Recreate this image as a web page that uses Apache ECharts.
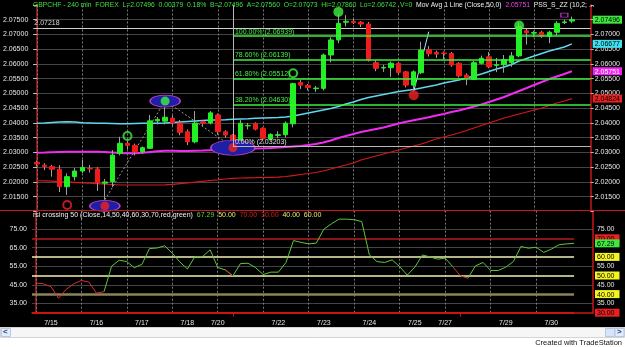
<!DOCTYPE html>
<html><head><meta charset="utf-8">
<script src="https://cdn.jsdelivr.net/npm/echarts@6/dist/echarts.min.js"></script>
<style>
html,body{margin:0;padding:0;background:#000;overflow:hidden}
#c{width:625px;height:347px}
</style></head><body><div id="c"></div>
<script>
// ---------------- data ----------------
const dayLabels = ['7/14','7/15','7/16','7/17','7/18','7/20','7/21','7/22','7/23','7/24','7/25','7/27','7/28','7/29','7/30'];
const barsPerDay = [2,6,6,6,4,2,6,6,6,6,4,2,6,6,4];
const weekStartDays = ['7/21','7/28'];
const barsPerGridStep = 6;

const openP = [2.0266,2.0257,2.0252,2.0243,2.0184,2.0218,2.0237,2.0246,2.0244,2.0196,
2.0201,2.0297,2.0331,2.0324,2.0302,2.0314,2.0407,2.0406,2.0416,2.0399,
2.0370,2.0336,2.0404,2.0400,2.0427,2.0370,2.0359,2.0334,2.0390,2.0397,
2.0382,2.0345,2.0358,2.0360,2.0397,2.0537,2.0527,2.0516,2.0517,2.0630,
2.0681,2.0741,2.0744,2.0741,2.0735,2.0604,2.0586,2.0587,2.0602,2.0573,
2.0528,2.0570,2.0648,2.0639,2.0637,2.0635,2.0602,2.0562,2.0548,2.0602,
2.0624,2.0595,2.0597,2.0604,2.0627,2.0712,2.0704,2.0707,2.0693,2.0707,
2.0740,2.0745];
const highP = [2.0272,2.0264,2.0258,2.0257,2.0229,2.0248,2.0275,2.0257,2.0250,2.0210,
2.0308,2.0353,2.0340,2.0330,2.0320,2.0427,2.0420,2.0455,2.0425,2.0410,
2.0378,2.0440,2.0410,2.0440,2.0432,2.0375,2.0362,2.0410,2.0400,2.0402,
2.0385,2.0365,2.0372,2.0405,2.0536,2.0545,2.0532,2.0525,2.0635,2.0690,
2.0769,2.0765,2.0752,2.0745,2.0742,2.0612,2.0597,2.0608,2.0605,2.0576,
2.0578,2.0675,2.0660,2.0645,2.0642,2.0640,2.0606,2.0568,2.0610,2.0628,
2.0640,2.0620,2.0630,2.0640,2.0740,2.0718,2.0712,2.0712,2.0712,2.0745,
2.0750,2.0760];
const lowP = [2.0253,2.0240,2.0218,2.0166,2.0156,2.0205,2.0230,2.0232,2.0170,2.0140,
2.0183,2.0290,2.0310,2.0290,2.0296,2.0312,2.0395,2.0395,2.0390,2.0358,
2.0325,2.0331,2.0390,2.0395,2.0360,2.0350,2.03203,2.0330,2.0378,2.0375,
2.0340,2.0340,2.0348,2.0350,2.0385,2.0515,2.0510,2.0505,2.0510,2.0605,
2.0670,2.0727,2.0735,2.0725,2.0608,2.0575,2.0573,2.0556,2.0565,2.0520,
2.0505,2.0565,2.0625,2.0620,2.0615,2.0590,2.0553,2.0528,2.0545,2.0598,
2.0585,2.0572,2.0570,2.0590,2.0622,2.0665,2.0690,2.0688,2.0670,2.0695,
2.0735,2.0738];
const closeP = [2.0261,2.0252,2.0243,2.0184,2.0218,2.0237,2.0249,2.0244,2.0198,2.0200,
2.0291,2.0331,2.0324,2.0302,2.0316,2.0407,2.0412,2.0419,2.0400,2.0368,
2.0336,2.0399,2.0399,2.0434,2.0370,2.0359,2.0324,2.0399,2.0391,2.0379,
2.0348,2.0361,2.0360,2.0399,2.0533,2.0528,2.0520,2.0518,2.0630,2.0681,
2.0737,2.0744,2.0740,2.0735,2.0613,2.0585,2.0588,2.0602,2.0571,2.0528,
2.0573,2.0647,2.0634,2.0633,2.0635,2.0596,2.0559,2.0551,2.0604,2.0619,
2.0590,2.0597,2.0614,2.0627,2.0726,2.0705,2.0706,2.0694,2.0707,2.0737,
2.0742,2.07496];

const maFast = [2.03986,2.03996,2.04013,2.04030,2.04040,2.04030,2.04006,2.03996,2.03986,2.03986,
2.03979,2.03973,2.03973,2.03979,2.03986,2.03986,2.03986,2.03996,2.04013,2.04030,
2.04047,2.04064,2.04081,2.04098,2.04098,2.04108,2.04122,2.04132,2.04142,2.04155,
2.04166,2.04176,2.04183,2.04199,2.04233,2.04284,2.04335,2.04386,2.04437,2.04487,
2.04555,2.04640,2.04707,2.04792,2.04860,2.04911,2.04962,2.05012,2.05063,2.05097,
2.05131,2.05181,2.05232,2.05283,2.05351,2.05401,2.05452,2.05520,2.05588,2.05656,
2.05740,2.05825,2.05893,2.05977,2.06096,2.06180,2.06265,2.06350,2.06434,2.06502,
2.06570,2.06677];
const ma50 = [2.02990,2.02997,2.03007,2.03014,2.03021,2.03024,2.03024,2.03024,2.03021,2.03014,
2.02997,2.02980,2.02970,2.02970,2.02987,2.03014,2.03038,2.03058,2.03058,2.03048,
2.03048,2.03058,2.03065,2.03075,2.03082,2.03092,2.03106,2.03116,2.03126,2.03133,
2.03140,2.03150,2.03167,2.03184,2.03201,2.03218,2.03251,2.03285,2.03336,2.03404,
2.03488,2.03556,2.03624,2.03692,2.03742,2.03793,2.03844,2.03912,2.03979,2.04037,
2.04088,2.04139,2.04189,2.04250,2.04301,2.04369,2.04420,2.04487,2.04555,2.04623,
2.04707,2.04792,2.04877,2.04979,2.05080,2.05181,2.05283,2.05385,2.05486,2.05571,
2.05656,2.05751];
const maSlow = [2.02042,2.02039,2.02032,2.02015,2.02005,2.01988,2.01971,2.01958,2.01947,2.01930,
2.01914,2.01897,2.01897,2.01897,2.01897,2.01897,2.01897,2.01903,2.01920,2.01947,
2.01971,2.01998,2.02022,2.02049,2.02073,2.02100,2.02124,2.02134,2.02141,2.02144,
2.02151,2.02157,2.02161,2.02185,2.02218,2.02252,2.02286,2.02320,2.02371,2.02439,
2.02506,2.02574,2.02642,2.02743,2.02811,2.02879,2.02947,2.03014,2.03082,2.03150,
2.03218,2.03285,2.03370,2.03454,2.03522,2.03590,2.03658,2.03742,2.03827,2.03912,
2.03996,2.04081,2.04166,2.04233,2.04301,2.04369,2.04437,2.04504,2.04589,2.04674,
2.04741,2.04824];

const rsi = [46,45.5,44,37.8,42.5,45.5,47.3,46.5,40.5,41.3,
55,58.2,57.5,54.2,56,64.5,64.8,66,62,57.3,
53.5,60.2,60.2,63.8,54.3,53,49.8,56.4,56.6,54.2,
50.5,51.8,51.8,57,68.8,67.8,67,67.4,74.9,77.8,
80.3,80.3,80,79,61.1,57.5,57,58.4,54.8,50.2,
54.5,61,60,58.8,59.3,54.8,49.8,48.6,55.2,57,
52.7,52.7,54.5,57.5,65.6,64.7,65.2,62.4,64.2,66.5,
67,67.29];
const rsiLevels = {ob:70, hi:60, mid:50, lo:40, os:30};

const fibStartBar = 26;
const fibLevels = [
  {name:'100.00% (2.06939)', v:2.06939},
  {name:'78.60% (2.06139)', v:2.06139},
  {name:'61.80% (2.05512)', v:2.05512},
  {name:'38.20% (2.04630)', v:2.04630}
];
const fibZero = {name:'0.00% (2.03203)', v:2.03203};
const refLine = 2.07218;

const zigzag = [[9,2.0140],[17,2.0475],[26,2.0318]];
const trendLeg = [[50,2.0506],[52,2.0709]];
const pivotLowsBig = [[9,2.0119],[26,2.0316]];
const pivotHighsBig = [[17,2.0474]];
const lowRings = [[4,2.0122]];
const highRings = [[12,2.03556],[34,2.05679]];
const highDots = [[40,2.0776],[64,2.0730]];
const lowDots = [[50,2.0494]];
const zzMarker = [[70,2.0765]];

const lastVals = {close:2.07496, fast:2.06677, ma50:2.05751, slow:2.04824};

// ---------------- derived ----------------
const dates = [];
const dayStart = {};
barsPerDay.forEach((n,k)=>{ dayStart[dayLabels[k]] = dates.length; for(let j=0;j<n;j++) dates.push(dayLabels[k]); });
const N = dates.length;
const labelBars = new Set();
let lastLab = -99;
dayLabels.forEach((d,k)=>{ if(k===0) return; const s=dayStart[d]; if(s-lastLab>=4){labelBars.add(s); lastLab=s;} });
const gridBars = [];
for (let b=0;b<N;b+=barsPerGridStep) gridBars.push(b);
const weekBars = new Set(weekStartDays.map(d=>dayStart[d]));
const XMAX = N + 1;
const XR = XMAX + 0.5;

const wickData = openP.map((o,i)=>[o, closeP[i], lowP[i], highP[i]]);
const bodyData = openP.map((o,i)=>[o, closeP[i], Math.min(o,closeP[i]), Math.max(o,closeP[i])]);

const rsiUp = new Array(N).fill(null), rsiDn = new Array(N).fill(null);
for (let i=1;i<N;i++){ const s = rsi[i] >= rsiLevels.mid ? rsiUp : rsiDn; s[i-1]=rsi[i-1]; s[i]=rsi[i]; }

const FONT = '"Liberation Sans",Arial,sans-serif';
const FS = 7;
const LBL = '#e6e6e6';
const RED = '#c81818';
const GRIDC = '#444';
const DASHC = '#7a7a7a';
const PMIN = 2.010, PMAX = 2.080;

const chart = echarts.init(document.getElementById('c'));

const priceTicksColor = [];
for (let v = PMIN; v <= PMAX + 1e-6; v += 0.005) priceTicksColor.push((v > 2.0149 && v < 2.0751) ? GRIDC : 'rgba(0,0,0,0)');
const rsiTickColor = [];
for (let v = 30; v <= 85; v += 5) rsiTickColor.push((v === 85 || v % 10 === 0) ? 'rgba(0,0,0,0)' : GRIDC);

const priceFmt = v => (v > 2.0149 && v < 2.0751) ? v.toFixed(5) : '';
const bx = (bg, fg, pr) => ({backgroundColor:bg, color:fg, padding:[1,pr,0,2], fontFamily:FONT, fontSize:FS});
const boxRich = {
  g:bx('#3ee83e','#000',2), c:bx('#3fe0f0','#000',2), m:bx('#f020f0','#fff',2), r:bx('#e82020','#000',2),
  y:bx('#f4f420','#000',5), rr:bx('#e82020','#000',5), gg:bx('#3ee83e','#000',5),
  p:{color:LBL, fontFamily:FONT, fontSize:FS}
};

const option = {
  backgroundColor:'#000',
  animation:false,
  grid:[
    {left:32, right:32, top:4.8, height:206.7},
    {left:32, right:32, top:210.4, height:102.3}
  ],
  xAxis:[
    {type:'category', gridIndex:0, data:dates, max:XMAX, boundaryGap:true,
     axisLine:{show:false}, axisTick:{show:false}, axisLabel:{show:false}, splitLine:{show:false}},
    {type:'value', gridIndex:0, min:-0.5, max:XR, show:false},
    {type:'category', gridIndex:1, data:dates, max:XMAX, boundaryGap:true,
     axisLine:{show:true, lineStyle:{color:RED, width:1.5}},
     axisTick:{show:true, alignWithLabel:true, length:4, interval:(i)=>weekBars.has(i), lineStyle:{color:RED}},
     axisLabel:{interval:(i)=>labelBars.has(i), color:LBL, fontFamily:FONT, fontSize:FS, margin:7},
     splitLine:{show:false}},
    {type:'value', gridIndex:1, min:-0.5, max:XR, show:false}
  ],
  yAxis:[
    {type:'value', gridIndex:0, position:'left', min:PMIN, max:PMAX, interval:0.005,
     axisLine:{show:true, lineStyle:{color:RED, width:1.5}},
     axisTick:{show:true, length:4, lineStyle:{color:'#bbb'}},
     axisLabel:{formatter:priceFmt, color:LBL, fontFamily:FONT, fontSize:FS, margin:5},
     splitLine:{show:true, lineStyle:{color:priceTicksColor, width:1}}},
    {type:'value', gridIndex:0, position:'right', min:PMIN, max:PMAX, interval:0.005,
     axisLine:{show:true, lineStyle:{color:RED, width:1.5}},
     axisTick:{show:true, length:3, lineStyle:{color:'#bbb'}},
     axisLabel:{formatter:priceFmt, color:LBL, fontFamily:FONT, fontSize:FS, margin:4},
     splitLine:{show:false}},
    {type:'value', gridIndex:0, position:'right', min:PMIN, max:PMAX,
     axisLine:{show:false}, axisTick:{show:false}, splitLine:{show:false},
     axisLabel:{margin:2, customValues:[lastVals.slow,lastVals.ma50,lastVals.fast,lastVals.close],
       formatter:v=>{const s=v.toFixed(5); if(Math.abs(v-lastVals.close)<1e-7) return '{g|'+s+'}'; if(Math.abs(v-lastVals.fast)<1e-7) return '{c|'+s+'}'; if(Math.abs(v-lastVals.ma50)<1e-7) return '{m|'+s+'}'; return '{r|'+s+'}';},
       rich:boxRich}},
    {type:'value', gridIndex:1, position:'left', min:30, max:85, interval:5,
     axisLine:{show:true, lineStyle:{color:RED, width:1.5}},
     axisTick:{show:false},
     axisLabel:{formatter:v=>(v%10===5 && v<80)?v.toFixed(2):'', color:LBL, fontFamily:FONT, fontSize:FS, margin:5},
     splitLine:{show:true, lineStyle:{color:rsiTickColor}}},
    {type:'value', gridIndex:1, position:'right', min:30, max:85,
     axisLine:{show:true, lineStyle:{color:RED, width:1.5}}, axisTick:{show:false}, splitLine:{show:false},
     axisLabel:{margin:2, customValues:[75,55,45,35,rsiLevels.ob,rsi[N-1],rsiLevels.hi,rsiLevels.mid,rsiLevels.lo,rsiLevels.os],
       formatter:v=>{const s=v.toFixed(2); if(v===rsiLevels.ob||v===rsiLevels.os) return '{rr|'+s+'}'; if(v===rsiLevels.hi||v===rsiLevels.mid||v===rsiLevels.lo) return '{y|'+s+'}'; if(v%5!==0) return '{gg|'+s+'}'; return '{p| '+s+'}';},
       rich:boxRich}}
  ],
  series:[
    {type:'line', xAxisIndex:1, yAxisIndex:0, data:[], silent:true, z:1,
     markLine:{z:1, symbol:'none', silent:true, animation:false,
       data:[
         ...gridBars.map(b=>({xAxis:b, lineStyle:{color:DASHC, type:[2,2], width:1}, label:{show:false}})),
         [{coord:[-0.5, refLine], name:refLine.toFixed(5), lineStyle:{color:'#cfcfcf', type:'solid', width:1}}, {coord:[XR, refLine]}]
       ],
       label:{show:true, position:'insideStartTop', formatter:p=>p.name||'', color:'#d8d8d8', fontFamily:FONT, fontSize:FS, distance:[1,1]}}},
    {type:'line', xAxisIndex:0, yAxisIndex:0, data:maFast, symbol:'none', lineStyle:{color:'#5fd8f0', width:1.5}, z:2},
    {type:'line', xAxisIndex:0, yAxisIndex:0, data:ma50, symbol:'none', lineStyle:{color:'#f02cf0', width:2}, z:2},
    {type:'line', xAxisIndex:0, yAxisIndex:0, data:maSlow, symbol:'none', lineStyle:{color:'#d81818', width:1.2}, z:2},
    {type:'line', xAxisIndex:1, yAxisIndex:0, data:zigzag, symbol:'none', lineStyle:{color:'#9a9a9a', width:1, type:[2,2]}, z:3},
    {type:'line', xAxisIndex:1, yAxisIndex:0, data:trendLeg, symbol:'none', lineStyle:{color:'#a8e8ff', width:1}, z:3},
    {type:'candlestick', xAxisIndex:0, yAxisIndex:0, data:wickData, barWidth:1, z:4,
     itemStyle:{color:'#a0a0a0', color0:'#a0a0a0', borderColor:'#a0a0a0', borderColor0:'#a0a0a0', borderWidth:1}},
    {type:'candlestick', xAxisIndex:0, yAxisIndex:0, data:bodyData, barWidth:5, z:5,
     itemStyle:{color:'#22f022', color0:'#f01c1c', borderColor:'#22f022', borderColor0:'#f01c1c', borderWidth:1}},
    {type:'scatter', xAxisIndex:1, yAxisIndex:0, z:6, silent:true,
     data:[...pivotLowsBig.map((p,k)=>({value:p, symbolSize: k===1?[44,15]:[30,11]})), ...pivotHighsBig.map(p=>({value:p, symbolSize:[30,12]}))],
     symbol:'circle', itemStyle:{color:'#1e1ea6', borderColor:'#c040c8', borderWidth:1, opacity:1}},
    {type:'scatter', xAxisIndex:1, yAxisIndex:0, z:7, silent:true, symbol:'circle', symbolSize:8,
     data:[...lowRings.map(p=>({value:p, itemStyle:{borderColor:'#f02020'}})), ...highRings.map(p=>({value:p, itemStyle:{borderColor:'#40f040'}}))],
     itemStyle:{color:'rgba(0,0,0,0)', borderWidth:2}},
    {type:'scatter', xAxisIndex:1, yAxisIndex:0, z:7, silent:true, symbol:'circle',
     data:[...pivotLowsBig.map(p=>({value:p, symbolSize:9, itemStyle:{color:'#f02020'}})),
           ...pivotHighsBig.map(p=>({value:p, symbolSize:9, itemStyle:{color:'#40f040'}})),
           ...highDots.map(p=>({value:p, symbolSize:10, itemStyle:{color:'#40f040'}})),
           ...lowDots.map(p=>({value:p, symbolSize:10, itemStyle:{color:'#f02020'}}))]},
    {type:'scatter', xAxisIndex:1, yAxisIndex:0, z:7, silent:true, symbol:'rect', symbolSize:[7,4], data:zzMarker,
     itemStyle:{color:'rgba(0,0,0,0)', borderColor:'#e040e0', borderWidth:1}},
    {type:'line', xAxisIndex:1, yAxisIndex:0, data:[], silent:true, z:8,
     markLine:{z:9, symbol:'none', silent:true, animation:false,
       data:[
         ...fibLevels.map(f=>[{coord:[fibStartBar,f.v], name:f.name, lineStyle:{color:'#3cf03c', width:1.5, type:'solid'}},{coord:[XR,f.v]}]),
         [{coord:[fibStartBar,fibZero.v], name:fibZero.name, lineStyle:{color:'#b8b8b8', width:1, type:'solid'}, label:{color:'#e0e0e0'}},{coord:[XR,fibZero.v]}],
         [{coord:[fibStartBar,fibZero.v], name:'', lineStyle:{color:'#b8b8b8', width:1, type:'solid'}},{coord:[fibStartBar,PMAX]}]
       ],
       label:{show:true, position:'insideStartTop', formatter:p=>p.name||'', color:'#44ee44', fontFamily:FONT, fontSize:FS, distance:[2,1]}}},
    {type:'line', xAxisIndex:3, yAxisIndex:3, data:[], silent:true, z:1,
     markLine:{z:2, symbol:'none', silent:true, animation:false, label:{show:false},
       data:[
         ...gridBars.map(b=>({xAxis:b, lineStyle:{color:DASHC, type:[2,2], width:1}})),
         [{coord:[-0.5,rsiLevels.ob], lineStyle:{color:'#b81c1c', width:1.5, type:'solid'}},{coord:[N-1,rsiLevels.ob]}],
         [{coord:[-0.5,rsiLevels.hi], lineStyle:{color:'#f0f0b4', width:1.5, type:'solid'}},{coord:[N-1,rsiLevels.hi]}],
         [{coord:[-0.5,rsiLevels.mid], lineStyle:{color:'#f0f0b4', width:1.5, type:'solid'}},{coord:[N-1,rsiLevels.mid]}],
         [{coord:[-0.5,rsiLevels.lo], lineStyle:{color:'#8a8458', width:2.5, type:'solid'}},{coord:[N-1,rsiLevels.lo]}],
         [{coord:[-0.5,rsiLevels.os], lineStyle:{color:'#c81414', width:2, type:'solid'}},{coord:[N-1,rsiLevels.os]}]
       ]}},
    {type:'line', xAxisIndex:2, yAxisIndex:3, data:rsiUp, symbol:'none', connectNulls:false, lineStyle:{width:1, color:'#5cc83c'}, z:5},
    {type:'line', xAxisIndex:2, yAxisIndex:3, data:rsiDn, symbol:'none', connectNulls:false, lineStyle:{width:1, color:'#d83030'}, z:6}
  ],
  graphic:[
    {type:'text', left:33, top:2, z:100, silent:true,
     style:{text:'{g|GBPCHF - 240 min  FOREX  L='+closeP[N-1].toFixed(5)+'  0.00379  0.18%  B=2.07496  A=2.07560  O=2.07073  Hi=2.07860  Lo=2.06742  V=0}{w|  Mov Avg 1 Line (Close,50,0)}{m|  '+ma50[N-1].toFixed(5)+'}{w|  PSS_S_ZZ (10,2; ...}',
       rich:{g:{fill:'#3ee03e', fontFamily:FONT, fontSize:6.8}, w:{fill:'#f0f0f0', fontFamily:FONT, fontSize:6.8}, m:{fill:'#f040f0', fontFamily:FONT, fontSize:6.8}}}},
    {type:'text', left:33, top:212, z:100, silent:true,
     style:{text:'{w|rsi crossing 50 (Close,14,50,40,60,30,70,red,green)  }{g|'+rsi[N-1].toFixed(2)+'}{y|  50.00  }{r|70.00  30.00}{y|  40.00  60.00}',
       rich:{w:{fill:'#f0f0f0', fontFamily:FONT, fontSize:FS}, g:{fill:'#5cd03c', fontFamily:FONT, fontSize:FS}, y:{fill:'#e8e870', fontFamily:FONT, fontSize:FS}, r:{fill:'#d82020', fontFamily:FONT, fontSize:FS}}}},
    {type:'line', z:90, silent:true, shape:{x1:0, y1:210.5, x2:625, y2:210.5}, style:{stroke:RED, lineWidth:1.2}},
    {type:'rect', z:90, silent:true, shape:{x:0, y:327, width:625, height:20}, style:{fill:'#ffffff'}},
    {type:'rect', z:91, silent:true, shape:{x:0.5, y:327.5, width:624, height:10}, style:{fill:'#f6f6f6', stroke:'#d4d4d4', lineWidth:1}},
    {type:'rect', z:92, silent:true, shape:{x:1.5, y:328.5, width:9, height:8}, style:{fill:'#e4ecf8', stroke:'#b8c8e0'}},
    {type:'text', z:93, silent:true, left:3, top:328, style:{text:'<', fill:'#2040a0', fontFamily:FONT, fontSize:8, fontWeight:'bold'}},
    {type:'rect', z:92, silent:true, shape:{x:605.5, y:328.5, width:9, height:8}, style:{fill:'#d8e4f8', stroke:'#b8c8e0'}},
    {type:'rect', z:92, silent:true, shape:{x:615, y:328.5, width:9, height:8}, style:{fill:'#e4ecf8', stroke:'#b8c8e0'}},
    {type:'text', z:93, silent:true, left:617, top:328, style:{text:'>', fill:'#2040a0', fontFamily:FONT, fontSize:8, fontWeight:'bold'}},
    {type:'text', z:93, silent:true, right:3, top:338.5, style:{text:'Created with TradeStation', fill:'#111', fontFamily:FONT, fontSize:7.5}}
  ]
};
chart.setOption(option);
</script></body></html>
